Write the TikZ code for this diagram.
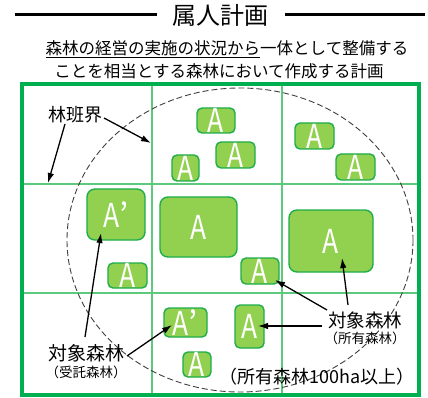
\documentclass[tikz,border=0pt]{standalone}
\usepackage{fontspec}
\setmainfont{Noto Sans CJK JP}
\usetikzlibrary{arrows.meta}
\definecolor{frameg}{HTML}{00B050}
\definecolor{gridg}{HTML}{5CC97C}
\definecolor{boxfill}{HTML}{92D050}
\definecolor{boxline}{HTML}{1EAD4A}
\newcommand{\fs}[1]{\fontsize{#1}{#1}\selectfont}
\tikzset{
  abox/.style={draw=boxline, fill=boxfill, line width=1.4pt, rounded corners=5pt,
    inner sep=0pt, text=white, font=\fs{33}},
  bigbox/.style={abox, rounded corners=8pt},
  lbl/.style={inner sep=0pt, text=black},
  arr/.style={-{Latex[length=10pt,width=6.5pt]}, line width=1.3pt, black},
  gridline/.style={draw=gridg, line width=1.2pt},
}
\newcommand{\AL}{\scalebox{0.8}[1]{A}}
\begin{document}
\begin{tikzpicture}[x=1pt,y=-1pt]
\useasboundingbox (0,0) rectangle (428,398);
% title
\node[lbl, font=\fs{24}] (title) at (220,15) {属人計画};
\coordinate (tl1) at (15,15); \coordinate (tl2) at (157,15);
\coordinate (tr1) at (285,15); \coordinate (tr2) at (425,15);
\draw[line width=3pt] (tl1) -- (tl2);
\draw[line width=3pt] (tr1) -- (tr2);
\node[lbl, font=\fs{16.5}] (sub1) at (227,49) {\underline{森林の経営の実施の状況から}一体として整備する};
\node[lbl, font=\fs{16.5}] (sub2) at (219,71) {ことを相当とする森林において作成する計画};
% frame and grid
\coordinate (f1) at (22,84); \coordinate (f2) at (419,395);
\fill[white] (f1) rectangle (f2);
\coordinate (v1t) at (152,84); \coordinate (v1b) at (152,395);
\coordinate (v2t) at (282,84); \coordinate (v2b) at (282,395);
\coordinate (h1l) at (22,184); \coordinate (h1r) at (419,184);
\coordinate (h2l) at (22,293); \coordinate (h2r) at (419,293);
\draw[gridline] (v1t) -- (v1b);
\draw[gridline] (v2t) -- (v2b);
\draw[gridline] (h1l) -- (h1r);
\draw[gridline] (h2l) -- (h2r);
% ellipse
\coordinate (ec) at (240,240);
\draw[gray!50!black, line width=0.9pt, dash pattern=on 6pt off 3pt] (ec) ellipse [x radius=173, y radius=152];
\draw[frameg, line width=3.5pt] (f1) rectangle (f2);
% boxes
\node[abox, minimum width=38pt, minimum height=25pt] (b1) at (216,120.5) {\AL};
\node[abox, minimum width=39pt, minimum height=26pt] (b2) at (235.5,155) {\AL};
\node[abox, minimum width=27pt, minimum height=26pt] (b3) at (185.5,168) {\AL};
\node[abox, minimum width=39pt, minimum height=26pt] (b4) at (314.5,136) {\AL};
\node[abox, minimum width=39pt, minimum height=26pt] (b5) at (355.5,167) {\AL};
\node[bigbox, minimum width=58pt, minimum height=51pt] (b6) at (116,214.5) {\AL’};
\node[bigbox, minimum width=77pt, minimum height=60pt] (b7) at (198.5,227) {\AL};
\node[bigbox, minimum width=84pt, minimum height=62pt] (b8) at (331,241) {\AL};
\node[abox, minimum width=39pt, minimum height=25pt] (b9) at (127.5,275.5) {\AL};
\node[abox, minimum width=38pt, minimum height=26pt] (b10) at (260,271) {\AL};
\node[abox, minimum width=43pt, minimum height=29pt] (b11) at (185.5,322.5) {\AL’};
\node[abox, minimum width=29pt, minimum height=43pt] (b12) at (249.5,326.5) {\AL};
\node[abox, minimum width=28pt, minimum height=25pt] (b13) at (197,364.5) {\AL};
% labels
\node[lbl, font=\fs{18}] (rinpan) at (75,115) {林班界};
\node[lbl, font=\fs{19}] (tl) at (86,353) {対象森林};
\node[lbl, font=\fs{13.5}] (tl2) at (86,372) {（受託森林）};
\node[lbl, font=\fs{18.5}] (tr) at (365,320) {対象森林};
\node[lbl, font=\fs{13.5}] (tr2) at (365,338) {（所有森林）};
\node[lbl, font=\fs{18}] (own) at (317,377) {（所有森林100ha以上）};
% arrows
\coordinate (a1s) at (65,124); \coordinate (a1e) at (48,183);
\coordinate (a2s) at (104,118); \coordinate (a2e) at (151,143);
\coordinate (a3s) at (85,337); \coordinate (a3e) at (101,233);
\coordinate (a4s) at (127,356); \coordinate (a4e) at (172,325);
\coordinate (a5s) at (327,310); \coordinate (a5e) at (275,280);
\coordinate (a6s) at (348,305); \coordinate (a6e) at (342,258);
\coordinate (a7s) at (322,326); \coordinate (a7e) at (258,326);
\draw[arr] (a1s) -- (a1e);
\draw[arr] (a2s) -- (a2e);
\draw[arr] (a3s) -- (a3e);
\draw[arr] (a4s) -- (a4e);
\draw[arr] (a5s) -- (a5e);
\draw[arr] (a6s) -- (a6e);
\draw[arr] (a7s) -- (a7e);
\end{tikzpicture}
\end{document}
